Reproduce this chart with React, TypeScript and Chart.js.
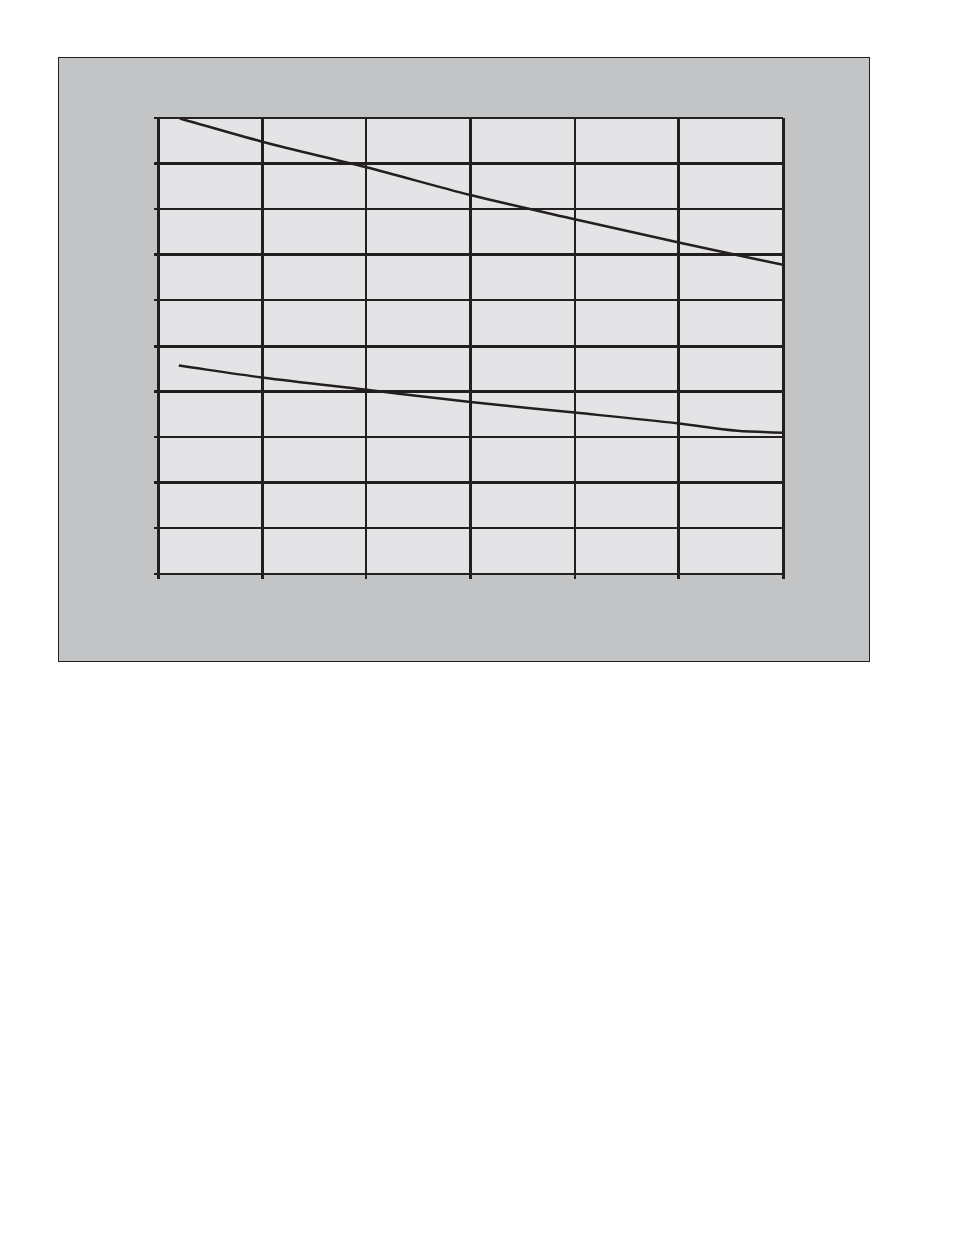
import React, { useEffect, useRef } from "react";
import { Chart, registerables } from "chart.js";

Chart.register(...registerables);

// Data (x in column units 0..6, y in row units 0..10)
const upperX = [0.21, 1.0, 2.0, 3.0, 4.0, 5.0, 6.0];
const upperY = [9.99, 9.48, 8.92, 8.31, 7.78, 7.27, 6.78];
const lowerX = [0.2, 1.0, 2.0, 3.0, 4.0, 5.0, 5.56, 6.0];
const lowerY = [4.57, 4.31, 4.04, 3.77, 3.54, 3.3, 3.14, 3.1];

const xMin = 0;
const xMax = 6;
const yMin = 0;
const yMax = 10;

// grid line weights (from bottom / from left)
const yGridWidths = [2, 2, 3, 2, 3, 3, 2, 3, 2, 3, 2];
const xGridWidths = [3, 3, 2, 3, 2, 3, 3];

const INK = "#231f20";

const plotBg = {
  id: "plotBg",
  beforeDraw(chart: any) {
    const { ctx, chartArea } = chart;
    ctx.save();
    ctx.fillStyle = "#e4e4e6";
    ctx.fillRect(chartArea.left, chartArea.top, chartArea.right - chartArea.left, chartArea.bottom - chartArea.top);
    ctx.restore();
  },
};

export default function App() {
  const ref = useRef<HTMLCanvasElement | null>(null);

  useEffect(() => {
    if (!ref.current) return;
    const chart = new Chart(ref.current, {
      type: "line",
      data: {
        datasets: [
          {
            data: upperX.map((x, i) => ({ x, y: upperY[i] })),
            borderColor: INK,
            borderWidth: 2.5,
            pointRadius: 0,
            cubicInterpolationMode: "monotone",
            fill: false,
          },
          {
            data: lowerX.map((x, i) => ({ x, y: lowerY[i] })),
            borderColor: INK,
            borderWidth: 2.5,
            pointRadius: 0,
            cubicInterpolationMode: "monotone",
            fill: false,
          },
        ],
      },
      options: {
        animation: false,
        responsive: false,
        events: [],
        layout: { padding: { left: 154, right: 171, top: 118, bottom: 121 } },
        plugins: { legend: { display: false }, tooltip: { enabled: false }, title: { display: false } },
        scales: {
          x: {
            type: "linear",
            min: xMin,
            max: xMax,
            ticks: { display: false, stepSize: 1 },
            grid: {
              color: INK,
              lineWidth: (c: any) => xGridWidths[c.index] ?? 2,
              tickLength: 5,
              drawTicks: true,
            },
            border: { display: true, color: INK, width: 2 },
          },
          y: {
            type: "linear",
            min: yMin,
            max: yMax,
            ticks: { display: false, stepSize: 1 },
            grid: {
              color: INK,
              lineWidth: (c: any) => yGridWidths[c.index] ?? 2,
              tickLength: 4,
              drawTicks: true,
            },
            border: { display: true, color: INK, width: 3 },
          },
        },
      },
      plugins: [plotBg],
    });
    return () => chart.destroy();
  }, []);

  return (
    <div style={{ position: "absolute", left: 0, top: 0, width: 954, height: 1235, background: "#ffffff" }}>
      <div
        style={{
          position: "absolute",
          left: 58,
          top: 57,
          width: 812,
          height: 605,
          boxSizing: "border-box",
          border: "1px solid " + INK,
          background: "#c3c4c6",
        }}
      />
      <canvas
        ref={ref}
        width={954}
        height={700}
        style={{ position: "absolute", left: 0, top: 0, width: 954, height: 700 }}
      />
    </div>
  );
}
